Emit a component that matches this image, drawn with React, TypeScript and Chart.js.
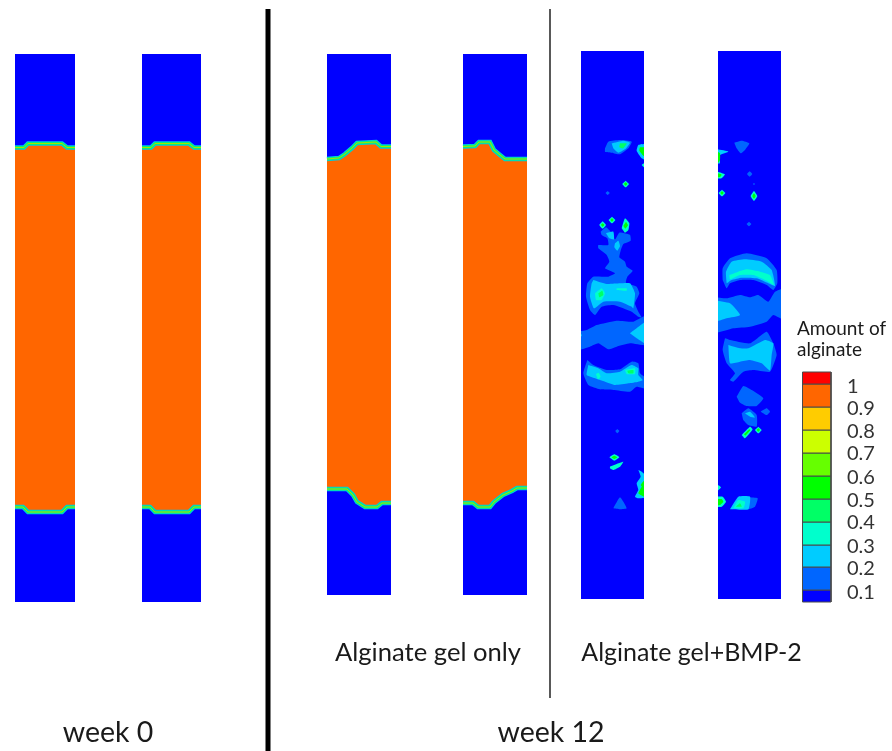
import React, { useEffect, useRef } from "react";
import { Chart, registerables } from "chart.js";

Chart.register(...registerables);

type P = [number, number];

// Level colours of the contour scale, from 0.1 up to 1
const levelColors = ["#0000ff", "#0066ff", "#00ccff", "#00ffcc", "#00ff66", "#00ff00", "#66ff00", "#ccff00", "#ffcc00", "#ff6600", "#ff0000"];
const colorbarLabels = ["1", "0.9", "0.8", "0.7", "0.6", "0.5", "0.4", "0.3", "0.2", "0.1"];
const colorbarEdges = [602, 590, 567, 545, 522, 499, 476, 453, 430, 407, 384, 372];
const colorbarLabelY = [387, 409, 432, 454, 478, 501, 523, 547, 569, 593];

// Specimen outlines [x0, x1, y0, y1]
const specimens = [
  [15, 75, 54, 602],
  [142, 201, 54, 602],
  [327, 391, 54, 595],
  [463, 527, 54, 595],
  [581, 644, 51, 599],
  [718, 781, 51, 599],
];

// White gaps that trim the patches to the BMP-2 specimens [x0, x1, y0, y1]
const trims = [
  [555, 581, 40, 610],
  [644, 718, 40, 610],
  [781, 795, 40, 610],
];

// Gel front contours (top and bottom of the filled region)
const frontTop: P[][] = [
  [[15, 147.5], [24, 147.5], [28, 143.5], [62, 143.5], [67, 147.5], [75, 147.5]],
  [[142, 147.5], [151, 147.5], [155, 143.5], [189, 143.5], [194, 147.5], [201, 147.5]],
  [[327, 159], [339, 158], [345, 154], [352, 148], [357, 143], [376, 142], [381, 146.5], [391, 146.5]],
  [[463, 146.5], [475, 146], [479, 142], [490, 142], [494, 150], [500, 155], [505, 159], [527, 159]],
];
const frontBottom: P[][] = [
  [[15, 507], [23, 507], [28, 512], [62, 512], [67, 507], [75, 507]],
  [[142, 507], [150, 507], [155, 512], [189, 512], [194, 507], [201, 507]],
  [[327, 489], [347, 489], [353, 495], [357, 502], [365, 507], [377, 507], [382, 503], [391, 503]],
  [[463, 503], [473, 503], [478, 507], [490, 507], [494, 502], [503, 495], [512, 491], [517, 488], [527, 488]],
];

// Patches of the two BMP-2 specimens: [level index, points] read on a 3x grid with origin (570, 120)
const patchesUpper: [number, P[]][] = [
  [1, [[105, 85], [115, 65], [150, 60], [185, 65], [175, 85], [150, 103], [125, 98], [105, 95]]],
  [2, [[125, 70], [160, 62], [180, 68], [165, 88], [145, 98], [130, 85]]],
  [4, [[150, 70], [170, 70], [160, 85], [148, 82]]],
  [2, [[222, 72], [205, 75], [200, 92], [215, 115], [222, 118]]],
  [5, [[222, 82], [210, 82], [208, 92], [222, 108]]],
  [3, [[215, 135], [222, 130], [222, 142]]],
  [3, [[167, 182], [177, 192], [167, 202], [157, 192]]],
  [5, [[167, 187], [172, 192], [167, 197], [162, 192]]],
  [1, [[113, 213], [119, 219], [113, 225], [107, 219]]],
  [3, [[98, 304], [108, 315], [98, 326], [88, 315]]],
  [5, [[98, 310], [103, 315], [98, 320], [93, 315]]],
  [3, [[126, 290], [136, 300], [126, 310], [116, 300]]],
  [5, [[126, 295], [131, 300], [126, 305], [121, 300]]],
  [1, [[92, 335], [108, 322], [122, 335], [135, 358], [148, 338], [180, 345], [182, 362], [160, 372], [152, 392], [148, 412], [165, 425], [170, 440], [188, 452], [172, 470], [168, 488], [200, 500], [208, 520], [195, 550], [205, 575], [215, 592], [205, 590], [185, 575], [130, 555], [95, 560], [75, 585], [60, 570], [48, 530], [52, 490], [70, 470], [115, 470], [135, 460], [105, 445], [118, 425], [110, 405], [85, 385], [85, 375], [115, 375], [112, 355], [95, 345]]],
  [3, [[155, 325], [165, 295], [178, 310], [175, 330], [165, 338]]],
  [5, [[160, 318], [168, 306], [174, 316], [166, 326]]],
  [2, [[108, 340], [130, 335], [132, 358], [118, 355]]],
  [2, [[135, 370], [145, 362], [150, 378], [142, 392], [133, 382]]],
  [2, [[70, 480], [110, 492], [150, 490], [180, 490], [195, 520], [190, 565], [185, 560], [150, 545], [100, 545], [72, 565], [60, 530], [65, 490]]],
  [3, [[75, 520], [95, 505], [105, 520], [95, 540], [78, 540]]],
  [4, [[85, 520], [97, 512], [100, 525], [88, 532]]],
  [3, [[140, 505], [170, 505], [170, 512], [140, 510]]],
  [1, [[493, 68], [515, 62], [538, 70], [525, 90], [512, 100], [500, 85]]],
  [2, [[443, 88], [475, 95], [450, 105], [450, 130], [443, 130]]],
  [5, [[443, 95], [450, 100], [450, 120], [443, 130]]],
  [3, [[443, 155], [465, 163], [455, 175], [443, 175]]],
  [5, [[443, 160], [455, 164], [450, 171], [443, 172]]],
  [3, [[456, 209], [466, 219], [456, 229], [446, 219]]],
  [5, [[456, 214], [461, 219], [456, 224], [451, 219]]],
  [1, [[539, 154], [547, 162], [539, 170], [531, 162]]],
  [1, [[552, 189], [555, 192], [552, 195], [549, 192]]],
  [3, [[552, 212], [562, 228], [552, 243], [542, 228]]],
  [5, [[552, 220], [557, 228], [552, 236], [547, 228]]],
  [1, [[537, 305], [544, 312], [537, 319], [530, 312]]],
  [1, [[458, 480], [458, 445], [480, 415], [530, 400], [590, 415], [620, 450], [622, 490], [610, 510], [590, 495], [550, 480], [510, 480], [480, 490], [470, 505]]],
  [2, [[470, 490], [468, 455], [485, 425], [525, 418], [575, 425], [605, 450], [615, 498], [595, 490], [560, 475], [515, 473], [485, 480]]],
  [3, [[478, 465], [505, 455], [530, 448], [570, 455], [600, 465], [612, 495], [590, 482], [550, 465], [510, 465], [480, 478]]],
];

// Same idea, read on a 3x grid with origin (570, 300)
const patchesLower: [number, P[]][] = [
  [1, [[20, 95], [50, 90], [80, 75], [140, 62], [190, 65], [235, 45], [235, 135], [180, 130], [140, 140], [115, 148], [85, 130], [60, 140], [20, 150]]],
  [2, [[180, 100], [235, 62], [235, 135], [200, 115]]],
  [2, [[25, 95], [36, 105], [25, 120]]],
  [1, [[52, 180], [70, 195], [110, 210], [150, 208], [185, 185], [205, 190], [210, 220], [235, 240], [235, 268], [200, 260], [180, 275], [130, 270], [90, 268], [55, 255], [40, 220]]],
  [2, [[55, 195], [85, 205], [110, 220], [150, 215], [185, 195], [205, 205], [205, 225], [218, 240], [205, 245], [175, 250], [135, 255], [105, 245], [75, 235], [50, 225]]],
  [3, [[165, 210], [195, 205], [195, 222], [170, 222]]],
  [4, [[172, 212], [190, 210], [190, 220], [175, 220]]],
  [3, [[78, 222], [86, 218], [92, 230], [84, 238]]],
  [1, [[142, 387], [148, 393], [142, 400], [136, 393]]],
  [3, [[118, 472], [133, 463], [148, 472], [133, 482]]],
  [5, [[124, 472], [133, 467], [142, 472], [133, 477]]],
  [3, [[120, 500], [145, 490], [160, 485], [150, 500], [130, 510], [120, 505]]],
  [2, [[205, 510], [215, 515], [230, 530], [230, 590], [205, 595], [195, 590], [205, 570], [200, 550], [212, 530]]],
  [5, [[228, 535], [212, 555], [215, 560], [205, 580], [228, 592]]],
  [1, [[130, 625], [150, 592], [170, 625], [150, 628]]],
  [1, [[430, -10], [470, -5], [510, -15], [540, -8], [565, -15], [595, 5], [615, -25], [645, -35], [645, 60], [610, 45], [590, 65], [540, 80], [490, 85], [430, 98]]],
  [2, [[430, 0], [480, 10], [510, 45], [470, 55], [430, 65]]],
  [1, [[465, 115], [480, 120], [540, 130], [590, 95], [610, 130], [620, 165], [600, 215], [550, 210], [520, 215], [490, 245], [480, 240], [495, 220], [470, 190], [458, 150]]],
  [2, [[475, 135], [510, 145], [535, 145], [585, 120], [610, 130], [605, 165], [600, 212], [575, 190], [540, 180], [510, 185], [480, 190]]],
  [1, [[500, 290], [520, 258], [545, 270], [580, 295], [560, 318], [530, 318], [510, 308]]],
  [1, [[515, 340], [535, 325], [560, 345], [560, 380], [535, 375], [520, 360]]],
  [2, [[525, 340], [540, 335], [555, 352], [540, 350]]],
  [1, [[572, 335], [590, 325], [600, 335], [590, 345]]],
  [3, [[515, 405], [540, 380], [548, 388], [525, 415]]],
  [5, [[522, 403], [538, 388], [541, 391], [526, 407]]],
  [3, [[565, 380], [575, 390], [565, 400], [555, 390]]],
  [5, [[565, 385], [570, 390], [565, 395], [560, 390]]],
  [3, [[435, 550], [453, 562], [435, 578]]],
  [3, [[435, 590], [458, 590], [468, 605], [455, 620], [435, 620]]],
  [5, [[435, 597], [455, 597], [460, 605], [450, 615], [435, 615]]],
  [1, [[535, 592], [563, 595], [555, 620], [530, 628]]],
  [2, [[480, 628], [505, 590], [540, 590], [535, 628]]],
  [3, [[490, 625], [505, 600], [525, 605], [520, 625]]],
  [4, [[498, 620], [510, 610], [515, 620]]],
];

const dividerBold: P[] = [[268, 9], [268, 751]];
const dividerThin: P[] = [[550, 9], [550, 698]];

const captions: [string, number, number, string, string][] = [
  ["week 0", 108, 733, "center", "28.5px Lato"],
  ["week 12", 551, 733, "center", "28.5px Lato"],
  ["Alginate gel only", 428, 653, "center", "25.6px Lato"],
  ["Alginate gel+BMP-2", 691.5, 653, "center", "25px Lato"],
  ["Amount of", 797, 329, "left", "19px Lato"],
  ["alginate", 797, 350, "left", "19px Lato"],
];

const toXY = (pts: P[]) => pts.map(([x, y]) => ({ x, y }));
const closed = (pts: P[]) => toXY([...pts, pts[0]]);
const fromGrid = (pts: P[], ox: number, oy: number): P[] => pts.map(([x, y]) => [ox + x / 3, oy + y / 3]);
const rect = (x0: number, x1: number, y0: number, y1: number): P[] => [[x0, y0], [x1, y0], [x1, y1], [x0, y1]];

function buildDatasets() {
  const out: any[] = [];
  const poly = (pts: P[], color: string, tension = 0, border = 0, borderColor = "transparent") =>
    out.push({
      data: closed(pts), showLine: true, fill: "shape", backgroundColor: color,
      borderColor, borderWidth: border, pointRadius: 0, tension,
    });
  const stroke = (pts: P[], color: string, width: number, tension = 0) =>
    out.push({
      data: toXY(pts), showLine: true, fill: false, borderColor: color,
      borderWidth: width, pointRadius: 0, tension, borderCapStyle: "butt",
    });

  specimens.forEach(([x0, x1, y0, y1]) => poly(rect(x0, x1, y0, y1), levelColors[0]));
  frontTop.forEach((top, i) => {
    poly([...top, ...[...frontBottom[i]].reverse()], levelColors[9]);
    [top, frontBottom[i]].forEach((c) => {
      stroke(c, "#00c8e8", 4.5);
      stroke(c, "#00f080", 3);
      stroke(c, "#a8e000", 1);
    });
  });
  patchesUpper.forEach(([lv, pts]) => poly(fromGrid(pts, 570, 120), levelColors[lv], 0.15));
  patchesLower.forEach(([lv, pts]) => poly(fromGrid(pts, 570, 300), levelColors[lv], 0.15));
  trims.forEach(([x0, x1, y0, y1]) => poly(rect(x0, x1, y0, y1), "#ffffff"));

  colorbarEdges.slice(0, -1).forEach((y, i) =>
    poly(rect(802.5, 831, colorbarEdges[i + 1], y), levelColors[i], 0, 1, "#4a4a4a"));

  stroke(dividerBold, "#000000", 5);
  stroke(dividerThin, "#000000", 1.3);
  return out.reverse();
}

const textPlugin = {
  id: "captions",
  afterDraw(chart: any) {
    const { ctx, scales } = chart;
    ctx.save();
    ctx.fillStyle = "#1a1a1a";
    ctx.textBaseline = "middle";
    captions.forEach(([t, x, y, align, font]) => {
      ctx.font = font;
      ctx.textAlign = align;
      ctx.fillText(t, scales.x.getPixelForValue(x), scales.y.getPixelForValue(y));
    });
    ctx.font = "20px Lato";
    ctx.textAlign = "left";
    ctx.fillStyle = "#333333";
    colorbarLabels.forEach((t, i) =>
      ctx.fillText(t, scales.x.getPixelForValue(847), scales.y.getPixelForValue(colorbarLabelY[i])));
    ctx.restore();
  },
};

export default function App() {
  const ref = useRef<HTMLCanvasElement>(null);
  useEffect(() => {
    const chart = new Chart(ref.current!, {
      type: "scatter",
      data: { datasets: buildDatasets() },
      options: {
        animation: false,
        responsive: false,
        layout: { padding: 0 },
        plugins: { legend: { display: false }, tooltip: { enabled: false } },
        scales: {
          x: { type: "linear", min: 0, max: 892, display: false },
          y: { type: "linear", min: 0, max: 751, reverse: true, display: false },
        },
      },
      plugins: [textPlugin],
    } as any);
    return () => chart.destroy();
  }, []);
  return (
    <canvas
      ref={ref}
      width={892}
      height={751}
      style={{ position: "fixed", left: 0, top: 0, background: "#fff", display: "block" }}
    />
  );
}
